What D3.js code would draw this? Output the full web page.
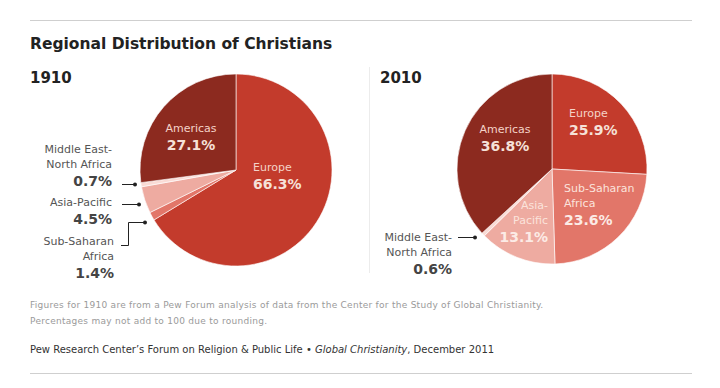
<!DOCTYPE html>
<html>
<head>
<meta charset="utf-8">
<script src="https://cdn.jsdelivr.net/npm/d3@7"></script>
<style>
  body { margin: 0; background: #fff; }
  svg { display: block; font-family: Verdana, "DejaVu Sans", sans-serif; }
</style>
</head>
<body>
<svg id="chart" width="720" height="388"></svg>
<script>
// data
var regions = ["Europe", "Sub-Saharan Africa", "Asia-Pacific", "Middle East-North Africa", "Americas"];
var share1910 = [66.3, 1.4, 4.5, 0.7, 27.1];
var share2010 = [25.9, 23.6, 13.1, 0.6, 36.8];
var regionColors = ["#c33b2c", "#e27669", "#eeaba1", "#fadbd5", "#8c2a1f"];

var svg = d3.select("#chart");

var color = d3.scaleOrdinal().domain(regions).range(regionColors);
var pie = d3.pie().sort(null).value(d => d.value);

// rules
svg.append("line").attr("x1", 30).attr("x2", 692).attr("y1", 20.5).attr("y2", 20.5)
   .attr("stroke", "#cfcfcf");
svg.append("line").attr("x1", 30).attr("x2", 692).attr("y1", 373.5).attr("y2", 373.5)
   .attr("stroke", "#cfcfcf");
svg.append("line").attr("x1", 369.5).attr("x2", 369.5).attr("y1", 67).attr("y2", 273)
   .attr("stroke", "#ececec");

svg.append("text").attr("x", 30).attr("y", 49)
   .attr("font-size", 15.5).attr("font-weight", "bold").attr("fill", "#222")
   .text("Regional Distribution of Christians");

function drawPie(values, cx, cy, r, year, labelX) {
  var data = regions.map((k, i) => ({key: k, value: values[i]}));
  var arcs = pie(data);
  var arc = d3.arc().innerRadius(0).outerRadius(r);
  var g = svg.append("g").attr("transform", `translate(${cx},${cy})`);
  g.selectAll("path").data(arcs).enter().append("path")
   .attr("d", arc)
   .attr("fill", d => color(d.data.key))
   .attr("stroke", "#fff")
   .attr("stroke-width", 0.6);

  svg.append("text").attr("x", labelX).attr("y", 83)
     .attr("font-size", 15).attr("font-weight", "bold").attr("fill", "#222")
     .text(year);
  return arcs;
}

function inner(x, y, anchor, name, val, fillName, fillVal) {
  var t = svg.append("g");
  var names = name.split("\n");
  names.forEach((n, i) => {
    t.append("text").attr("x", x).attr("y", y + i * 15)
     .attr("text-anchor", anchor).attr("font-size", 11).attr("fill", fillName).text(n);
  });
  t.append("text").attr("x", x).attr("y", y + names.length * 15 + 3)
   .attr("text-anchor", anchor).attr("font-size", 14).attr("font-weight", "bold")
   .attr("fill", fillVal).text(val.toFixed(1) + "%");
}

function outer(x, y, name, val) {
  var names = name.split("\n");
  names.forEach((n, i) => {
    svg.append("text").attr("x", x).attr("y", y + i * 15)
       .attr("text-anchor", "end").attr("font-size", 11).attr("fill", "#555").text(n);
  });
  svg.append("text").attr("x", x).attr("y", y + names.length * 15 + 3)
     .attr("text-anchor", "end").attr("font-size", 14).attr("font-weight", "bold")
     .attr("fill", "#444").text(val.toFixed(1) + "%");
}

function leader(points) {
  svg.append("path").attr("d", d3.line()(points))
     .attr("fill", "none").attr("stroke", "#222").attr("stroke-width", 1);
  var p = points[points.length - 1];
  svg.append("circle").attr("cx", p[0]).attr("cy", p[1]).attr("r", 2).attr("fill", "#222");
}

// 1910
drawPie(share1910, 236, 170, 96, "1910", 30);
inner(191, 132, "middle", "Americas", share1910[4], "#f4d3c8", "#f6e1d8");
inner(253, 171, "start", "Europe", share1910[0], "#f4d3c8", "#f6e1d8");
outer(112, 153, "Middle East-\nNorth Africa", share1910[3]);
outer(112, 206, "Asia-Pacific", share1910[2]);
outer(114, 245, "Sub-Saharan\nAfrica", share1910[1]);
leader([[122, 184.5], [135, 184.5]]);
leader([[122, 204.5], [139, 204.5]]);
leader([[121, 245.5], [128.5, 245.5], [128.5, 222.5], [145, 222.5]]);

// 2010
drawPie(share2010, 552, 169, 95, "2010", 380);
inner(505, 133, "middle", "Americas", share2010[4], "#f4d3c8", "#f6e1d8");
inner(569, 117, "start", "Europe", share2010[0], "#f4d3c8", "#f6e1d8");
inner(564, 192, "start", "Sub-Saharan\nAfrica", share2010[1], "#fbe3dc", "#fcebe6");
inner(548, 209, "end", "Asia-\nPacific", share2010[2], "#fbe3dc", "#fcebe6");
outer(452, 241, "Middle East-\nNorth Africa", share2010[3]);
leader([[458, 237.5], [475, 237.5]]);

// notes
svg.append("text").attr("x", 30).attr("y", 308).attr("font-size", 9).attr("letter-spacing", 0.27)
   .attr("fill", "#9a9a9a")
   .text("Figures for 1910 are from a Pew Forum analysis of data from the Center for the Study of Global Christianity.");
svg.append("text").attr("x", 30).attr("y", 324).attr("font-size", 9).attr("letter-spacing", 0.27)
   .attr("fill", "#9a9a9a")
   .text("Percentages may not add to 100 due to rounding.");
var src = svg.append("text").attr("x", 30).attr("y", 353).attr("font-size", 10).attr("fill", "#333");
src.append("tspan").text("Pew Research Center\u2019s Forum on Religion & Public Life \u2022 ");
src.append("tspan").attr("font-style", "italic").text("Global Christianity");
src.append("tspan").text(", December 2011");
</script>
</body>
</html>
